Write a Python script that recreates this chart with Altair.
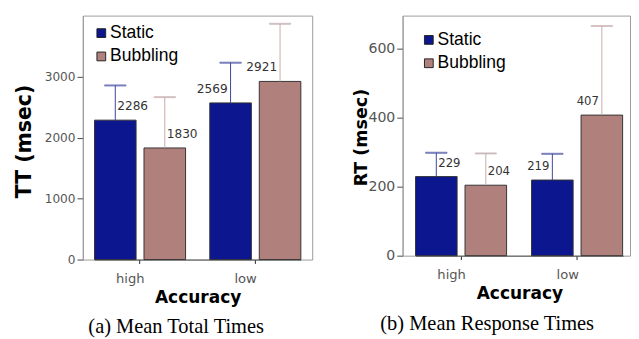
import altair as alt
import pandas as pd

accuracy = ["high", "high", "low", "low"]
condition = ["Static", "Bubbling", "Static", "Bubbling"]
tt_mean = [2286, 1830, 2569, 2921]
tt_upper = [2855, 2663, 3228, 3866]
rt_mean = [229, 204, 219, 407]
rt_upper = [298, 296, 295, 665]
label_side = ["right", "right", "left", "left"]

cond_order = ["Static", "Bubbling"]
bar_colors = ["#0b168f", "#b0807d"]
err_colors = ["#3c3f9c", "#c9a9a9"]

tt_df = pd.DataFrame({"Accuracy": accuracy, "Condition": condition,
                      "mean": tt_mean, "upper": tt_upper, "side": label_side})
rt_df = pd.DataFrame({"Accuracy": accuracy, "Condition": condition,
                      "mean": rt_mean, "upper": rt_upper, "side": label_side})


def panel(df, ymax, yticks, ytitle, caption, W, H, xrange, tfx, tfy, tsize,
          lab_size, tick_lab_size, legx, legy, cap_dx, dy_lab):
    xenc = alt.X("Accuracy:N", scale=alt.Scale(range=xrange, paddingInner=0.21, paddingOuter=0),
                 axis=alt.Axis(title="Accuracy", titleFont="DejaVu Sans", titleFontWeight="bold",
                               titleFontSize=17.5, titleColor="black", titlePadding=4,
                               labelFont="DejaVu Sans", labelFontSize=13.5, labelColor="#555",
                               labelAngle=0, labelOffset=-10, labelPadding=9,
                               tickSize=4, tickColor="#222", domainColor="#555"))
    xoff = alt.XOffset("Condition:N", scale=alt.Scale(domain=cond_order, paddingInner=0.16, paddingOuter=0))
    yenc = alt.Y("mean:Q", scale=alt.Scale(domain=[0, ymax], nice=False),
                 axis=alt.Axis(values=yticks, format="d", title=ytitle, grid=False,
                               titleFont="DejaVu Sans", titleFontWeight="bold", titleFontSize=tsize,
                               titleColor="black", titleX=tfx, titleY=tfy, titleBaseline="middle",
                               titleAnchor="middle",
                               labelFont="DejaVu Sans", labelFontSize=tick_lab_size, labelColor="#555",
                               labelPadding=2, tickSize=6, tickColor="#444", domainColor="#999"))
    base = alt.Chart(df)
    bars = base.mark_bar(stroke="#333", strokeWidth=1).encode(
        x=xenc, xOffset=xoff, y=yenc,
        fill=alt.Fill("Condition:N", scale=alt.Scale(domain=cond_order, range=bar_colors),
                      legend=alt.Legend(title=None, orient="none", legendX=legx, legendY=legy,
                                        symbolType="square", symbolSize=81, symbolStrokeColor="#222",
                                        symbolStrokeWidth=1, symbolOpacity=1,
                                        labelFont="Liberation Sans", labelFontSize=18,
                                        labelColor="black", labelOffset=0, rowPadding=6, padding=0)))
    stroke = alt.Stroke("Condition:N", scale=alt.Scale(domain=cond_order, range=err_colors), legend=None)
    rules = base.mark_rule(strokeWidth=1).encode(
        x="Accuracy:N", xOffset=xoff, y="mean:Q", y2="upper:Q", stroke=stroke)
    caps = base.mark_tick(thickness=1, size=22, orient="horizontal").encode(
        x="Accuracy:N", xOffset=xoff, y="upper:Q", stroke=stroke)
    txt_r = base.transform_filter(alt.datum.side == "right").mark_text(
        align="left", baseline="middle", dx=2, dy=dy_lab, font="DejaVu Sans",
        fontSize=lab_size, color="#333").encode(
        x="Accuracy:N", xOffset=xoff, y="mean:Q", text="mean:Q")
    txt_l = base.transform_filter(alt.datum.side == "left").mark_text(
        align="right", baseline="middle", dx=-3, dy=dy_lab, font="DejaVu Sans",
        fontSize=lab_size, color="#333").encode(
        x="Accuracy:N", xOffset=xoff, y="mean:Q", text="mean:Q")
    return alt.layer(bars, rules, caps, txt_r, txt_l).properties(
        width=W, height=H,
        title=alt.TitleParams(caption, orient="bottom", font="Liberation Serif", fontSize=21,
                              fontWeight="normal", color="black", dx=cap_dx, offset=11,
                              anchor="middle")
    ).resolve_scale(fill="shared", stroke="independent")


left = panel(tt_df, 4000, [0, 1000, 2000, 3000], "TT (msec)", "(a) Mean Total Times",
             236, 251, [12, 224.3], -60, 129, 21, 12.5, 12.5, 10, 9, -22, -14.5)
right = panel(rt_df, 695, [0, 200, 400, 600], "RT (msec)", "(b) Mean Response Times",
              234, 247, [13.3, 227], -42, 125, 18, 12, 14.5, 18, 16, -30, -14)

chart = alt.hconcat(left, right, spacing=40).resolve_scale(
    fill="independent", stroke="independent", y="independent").resolve_legend(
    fill="independent").properties(
    padding={"left": 5, "top": 2, "right": 0, "bottom": 0}
).configure_view(stroke="#9a9a9a")

chart.save("out.html", embed_options={"renderer": "svg", "actions": False})
